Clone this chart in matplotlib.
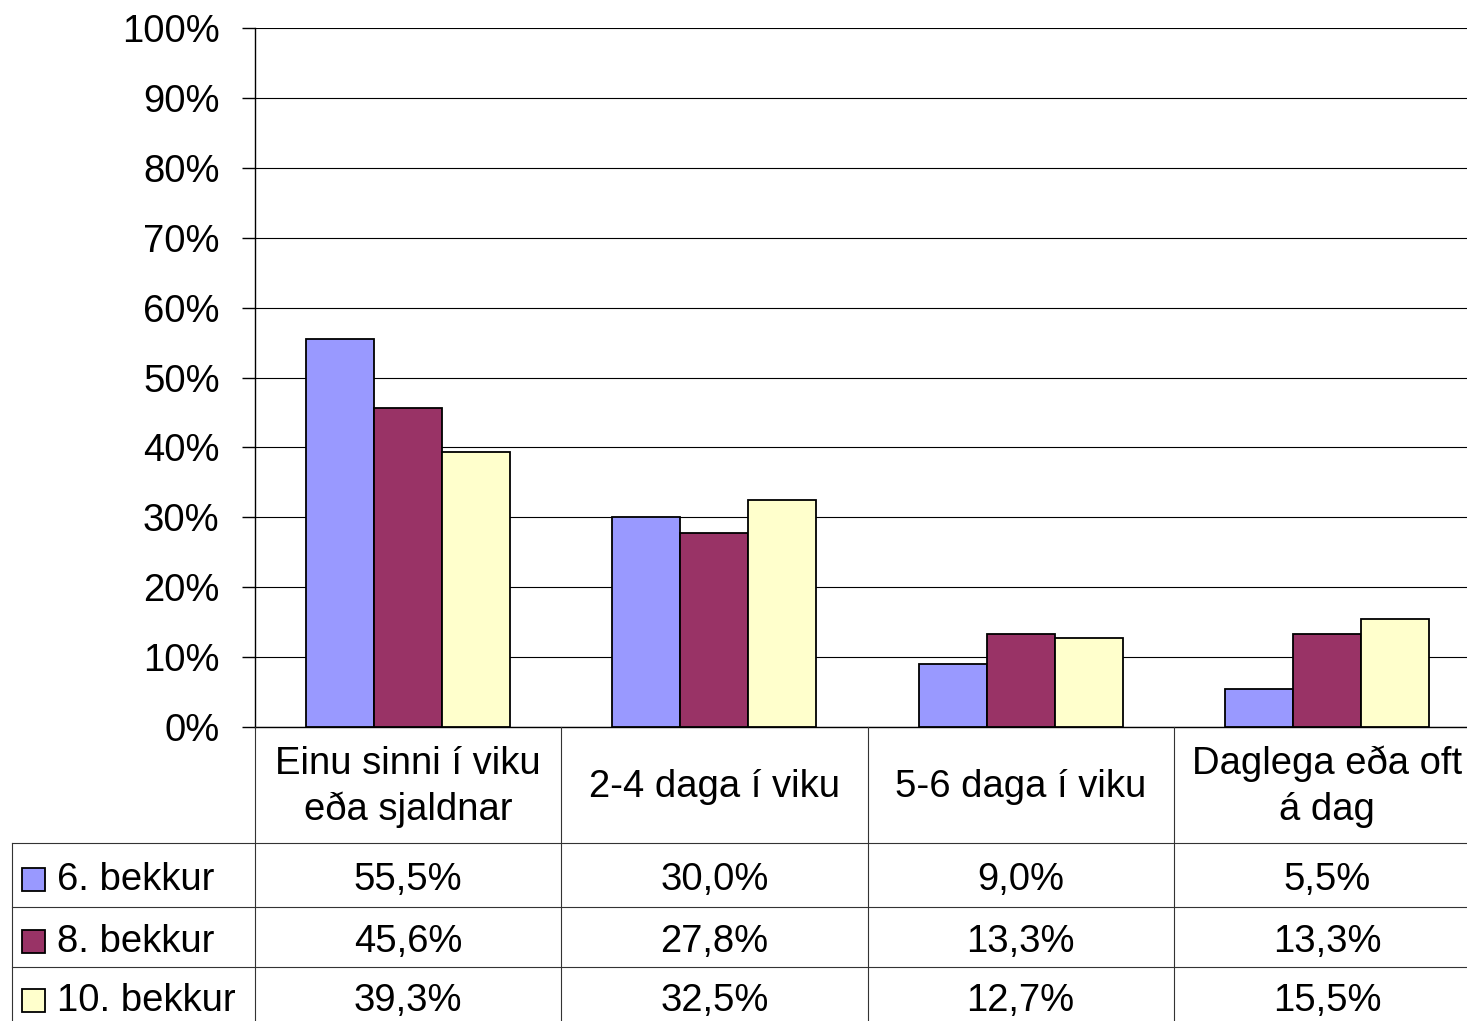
import numpy as np
import matplotlib.pyplot as plt
import matplotlib.transforms as mtransforms
from matplotlib.lines import Line2D
from matplotlib.patches import Rectangle
from matplotlib.ticker import PercentFormatter

plt.rcParams['font.family'] = ['Liberation Sans', 'DejaVu Sans']

# data
categories = ['Einu sinni í viku\neða sjaldnar', '2-4 daga í viku',
              '5-6 daga í viku', 'Daglega eða oft\ná dag']
series = ['6. bekkur', '8. bekkur', '10. bekkur']
grade6 = [55.5, 30.0, 9.0, 5.5]
grade8 = [45.6, 27.8, 13.3, 13.3]
grade10 = [39.3, 32.5, 12.7, 15.5]
colors = ['#9999FF', '#993366', '#FFFFCC']

W, H = 1467, 1021
fs = 27.5

def fx(p):
    return p / W

def fy(p):
    return 1 - p / H

fig = plt.figure(figsize=(W / 100, H / 100), dpi=100)
# plot area spans 4 categories of ~306px, the last one cut by the image edge
ax = fig.add_axes([fx(255), fy(727), fx(1480) - fx(255), fy(28) - fy(727)])

x = np.arange(len(categories))
w = 0.222
for i, vals in enumerate([grade6, grade8, grade10]):
    ax.bar(x + (i - 1) * w, np.array(vals) / 100, w, color=colors[i],
           edgecolor='black', linewidth=1.3, zorder=3)

ax.set_xlim(-0.5, 3.5)
ax.set_ylim(0, 1)
ax.set_yticks(np.arange(0, 1.01, 0.1))
ax.yaxis.set_major_formatter(PercentFormatter(1.0, decimals=0))
ax.set_xticks([])
ax.tick_params(axis='y', labelsize=fs, length=9.5, width=1, pad=16)
ax.grid(axis='y', color='black', linewidth=0.8, zorder=0)
for s in ['top', 'right']:
    ax.spines[s].set_visible(False)
ax.spines['left'].set_linewidth(1)
ax.spines['bottom'].set_linewidth(1)

# data table below the plot
tr = mtransforms.blended_transform_factory(ax.transData, fig.transFigure)
for xv in np.arange(len(categories)) - 0.5:
    fig.add_artist(Line2D([xv, xv], [fy(727), 0], transform=tr,
                          color='#333333', linewidth=0.8))
for yp in [843, 907, 967]:
    fig.add_artist(Line2D([fx(12), 1], [fy(yp), fy(yp)], transform=fig.transFigure,
                          color='#333333', linewidth=0.8))
fig.add_artist(Line2D([fx(12), fx(12)], [fy(843), 0], transform=fig.transFigure,
                      color='#333333', linewidth=0.8))

for i, c in enumerate(categories):
    fig.text(i, fy(787), c, transform=tr, ha='center', va='center',
             fontsize=fs, linespacing=1.35)

row_y = [880, 942, 1001]
for r, (name, vals) in enumerate(zip(series, [grade6, grade8, grade10])):
    yc = row_y[r]
    fig.add_artist(Rectangle((fx(22), fy(yc + 11)), fx(23), fy(0) - fy(23),
                             transform=fig.transFigure, facecolor=colors[r],
                             edgecolor='black', linewidth=1.3))
    fig.text(fx(57), fy(yc), name, ha='left', va='center', fontsize=fs)
    for i, v in enumerate(vals):
        fig.text(i, fy(yc), f'{v:.1f}%'.replace('.', ','), transform=tr,
                 ha='center', va='center', fontsize=fs)

fig.savefig('out.png', dpi=100)
